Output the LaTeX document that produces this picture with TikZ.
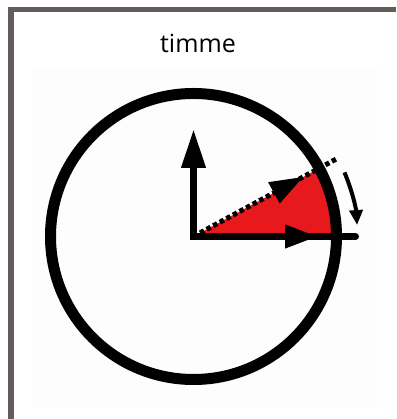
\documentclass[tikz,border=0pt]{standalone}
\usepackage{fontspec}
\setmainfont{Open Sans}
\usetikzlibrary{arrows.meta,calc}
\definecolor{framegray}{HTML}{645C5C}
\definecolor{photobg}{HTML}{FDFDFD}
\definecolor{wedgered}{HTML}{E8191C}
\tikzset{
  axisline/.style={line width=7pt, black},
  dotline/.style={line width=5pt, black, dash pattern=on 4.5pt off 3pt},
  rotarrow/.style={line width=4pt, black, -{Triangle[length=15pt,width=13pt]}},
}
\begin{document}
\begin{tikzpicture}[x=1pt,y=1pt]
\useasboundingbox (0,0) rectangle (396,419);
% frame
\fill[framegray] (8,407) rectangle (396,412);
\fill[framegray] (8,0) rectangle (14,412);
% photo background
\fill[photobg] (33,11) rectangle (377,353);
% title
\node[anchor=base, font=\fontsize{25}{28}\selectfont, inner sep=0pt] (title) at (198,366) {timme};
\coordinate (C) at (193.5,182.5);
% red wedge
\fill[wedgered] (C) -- ++(0:143) arc[start angle=0, end angle=28.5, radius=143] -- cycle;
% circle
\draw[line width=11pt] (C) circle[radius=143];
% dotted rotated axis
\coordinate (D) at ($(C)+(28.5:164)$);
\draw[dotline] (C) -- (D);
\draw[line width=1pt, -{Triangle[length=33pt,width=24pt]}] ($(C)+(28.5:90)$) -- ($(C)+(28.5:124.5)$);
% axes
\coordinate (Top) at ($(C)+(0,107.5)$);
\coordinate (Right) at ($(C)+(162,0)$);
\draw[axisline, line cap=round] (C) -- (Right);
\draw[axisline, -{Triangle[length=39pt,width=23pt]}] ($(C)+(0,-3.5)$) -- (Top);
\draw[axisline, -{Triangle[length=33pt,width=22pt]}] (C) -- ($(C)+(124.5,0)$);
% rotation arrow
\draw[rotarrow] ($(C)+(23:164)$) arc[start angle=23, end angle=4, radius=164];
\end{tikzpicture}
\end{document}
